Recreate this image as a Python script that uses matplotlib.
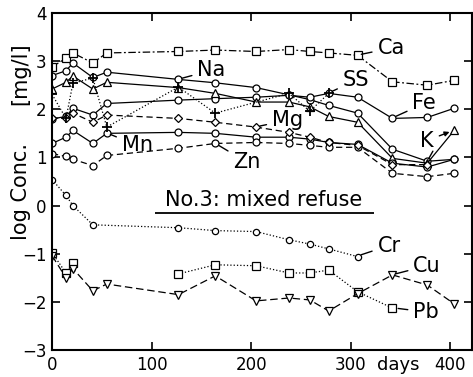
import numpy as np
import matplotlib
matplotlib.use('Agg')
import matplotlib.pyplot as plt

plt.rcParams['font.family'] = ['DejaVu Sans']

# sampling days
days = [0, 14, 21, 41, 55, 127, 164, 205, 238, 259, 278, 307, 342, 377, 404]

ca = [2.88, 3.06, 3.17, 2.96, 3.17, 3.20, 3.23, 3.20, 3.24, 3.20, 3.17, 3.12, 2.57, 2.50, 2.60]
na = [2.70, 2.80, 2.96, 2.66, 2.77, 2.62, 2.55, 2.45, 2.30, 2.20, 2.08, 1.92, 1.17, 0.92, 0.96]
fe = [1.80, 1.85, 2.02, 1.88, 2.12, 2.19, 2.22, 2.25, 2.29, 2.25, 2.33, 2.25, 1.81, 1.83, 2.02]
k = [2.42, 2.56, 2.69, 2.42, 2.56, 2.45, 2.33, 2.15, 2.15, 2.05, 1.85, 1.73, 0.98, 0.88, 1.56]
mn = [1.29, 1.42, 1.56, 1.29, 1.50, 1.52, 1.50, 1.42, 1.42, 1.38, 1.31, 1.27, 0.88, 0.80, 0.96]
zn = [1.08, 1.02, 0.96, 0.83, 1.04, 1.19, 1.29, 1.31, 1.29, 1.25, 1.21, 1.21, 0.67, 0.60, 0.67]
cu = [-1.04, -1.50, -1.31, -1.77, -1.63, -1.85, -1.46, -1.98, -1.92, -1.96, -2.19, -1.83, -1.44, -1.65, -2.04]

mg_days = days[:14]
mg = [1.82, 1.81, 1.92, 1.73, 1.88, 1.81, 1.73, 1.63, 1.52, 1.42, 1.31, 1.25, 0.85, 0.85]

ss_days = [0, 14, 21, 41, 55, 127, 164, 238, 259, 278]
ss = [2.31, 1.81, 2.54, 2.65, 1.63, 2.46, 1.92, 2.33, 1.96, 2.33]

cr_days = [0, 14, 21, 41, 127, 164, 205, 238, 259, 278, 307]
cr = [0.54, 0.21, 0.00, -0.40, -0.46, -0.52, -0.54, -0.71, -0.80, -0.90, -1.06]

pb_days = [0, 14, 21, 55, 127, 164, 205, 238, 259, 278, 307, 342]
pb = [-0.98, -1.40, -1.20, np.nan, -1.42, -1.23, -1.25, -1.40, -1.40, -1.34, -1.79, -2.13]

fig = plt.figure(figsize=(4.73, 3.77), dpi=100)
ax = fig.add_axes([0.110, 0.0716, 0.888, 0.894])

mk = dict(color='black', mfc='white', mec='black', lw=0.9, mew=0.9)
ax.plot(days, ca, marker='s', ms=5.5, ls=(0, (6, 2, 1.5, 2)), **mk)
ax.plot(days, na, marker='o', ms=5, ls='-', **mk)
ax.plot(days, fe, marker='o', ms=5, ls='-', **mk)
ax.plot(days, k, marker='^', ms=5.5, ls='-', **mk)
ax.plot(days, mn, marker='o', ms=5, ls='-', **mk)
ax.plot(days, zn, marker='o', ms=5, ls=(0, (5, 3)), **mk)
ax.plot(mg_days, mg, marker='D', ms=4.5, ls=(0, (5, 3)), **mk)
ax.plot(ss_days, ss, marker='+', ms=7, ls=':', color='black', lw=0.9, mew=1.3)
ax.plot(cr_days, cr, marker='o', ms=4.5, ls=':', **mk)
ax.plot(pb_days, pb, marker='s', ms=5.5, ls=':', **mk)
ax.plot(days, cu, marker='v', ms=5.5, ls=(0, (6, 3)), **mk)

# labels with leader lines
lab = dict(fontsize=15, va='center', ha='left')
arr = dict(arrowstyle='-', color='black', lw=1)
notes = [
    ('Ca', (327, 3.27), (308, 3.13)),
    ('Na', (146, 2.81), (128, 2.63)),
    ('SS', (292, 2.60), (279, 2.35)),
    ('Fe', (362, 2.12), (343, 1.83)),
    ('Mg', (221, 1.77), (206, 1.64)),
    ('Mn', (70, 1.25), (56, 1.50)),
    ('Zn', (182, 0.90), (165, 1.28)),
    ('Cr', (327, -0.83), (308, -1.04)),
    ('Cu', (363, -1.25), (343, -1.43)),
    ('Pb', (363, -2.21), (345, -2.13)),
]
for txt, xy_t, xy_p in notes:
    ax.annotate(txt, xy=xy_p, xytext=xy_t, arrowprops=arr, **lab)
ax.annotate('K', xy=(402, 1.55), xytext=(370, 1.35),
            arrowprops=dict(arrowstyle='-|>', color='black', lw=1, mutation_scale=7), **lab)
ax.annotate('', xy=(377, 0.92), xytext=(384, 1.18), arrowprops=arr)

ax.text(213, 0.12, 'No.3: mixed refuse', fontsize=15, ha='center', va='center')
ax.hlines(-0.16, 103, 323, color='black', lw=1.3)

ax.set_xlim(0, 422)
ax.set_ylim(-3, 4)
ax.set_xticks([0, 100, 200, 300, 400])
ax.set_yticks([-3, -2, -1, 0, 1, 2, 3, 4])
ax.tick_params(direction='in', top=True, right=True, length=6, width=1.2, labelsize=12, pad=4)
for s in ax.spines.values():
    s.set_linewidth(1.5)

ax.text(-0.075, 0.47, 'log Conc.', transform=ax.transAxes, rotation=90,
        fontsize=15, ha='center', va='center')
ax.text(-0.075, 0.82, '[mg/l]', transform=ax.transAxes, rotation=90,
        fontsize=15, ha='center', va='center')
ax.text(0.825, -0.045, 'days', transform=ax.transAxes, fontsize=13, ha='center', va='center')

fig.savefig('out.png', dpi=100)
